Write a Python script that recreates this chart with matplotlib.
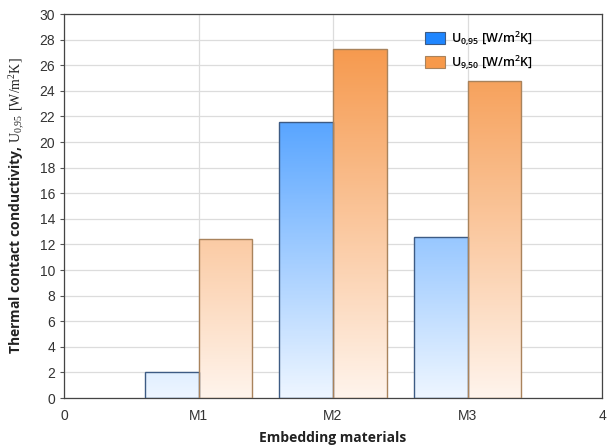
import matplotlib

matplotlib.use("Agg")
import matplotlib.pyplot as plt  # noqa: E402
import numpy as np  # noqa: E402
from matplotlib.colors import LinearSegmentedColormap  # noqa: E402
from matplotlib.patches import Rectangle  # noqa: E402

materials = ["M1", "M2", "M3"]
u_095 = [2.05, 21.55, 12.6]
u_950 = [12.4, 27.3, 24.75]
x_ticks = [0, 1, 2, 3, 4]
x_labels = ["0", "M1", "M2", "M3", "4"]

plt.rcParams.update({
    "font.family": ["Liberation Sans", "DejaVu Sans"],
    "mathtext.fontset": "custom",
    "mathtext.rm": "Liberation Serif",
    "mathtext.sf": "Open Sans:semibold",
})

BLUE_CM = LinearSegmentedColormap.from_list("blue", ["#eef6ff", "#1f86ff"])
ORANGE_CM = LinearSegmentedColormap.from_list("orange", ["#fff4ec", "#f5913f"])
BLUE_EDGE = "#3d5b84"
ORANGE_EDGE = "#a9835c"
YMAX = 30

fig = plt.figure(figsize=(6.1, 4.48), dpi=100)
ax = fig.add_axes([0.105, 0.1116, 0.882, 0.857])


def gradient_bar(ax, x, h, w, cmap, edge):
    # colour follows the y value on the axis, not the bar's own height
    grad = np.linspace(0, h / YMAX, 256).reshape(-1, 1)
    im = ax.imshow(grad, cmap=cmap, vmin=0, vmax=1, origin="lower",
                   extent=[x, x + w, 0, h], aspect="auto", zorder=2)
    rect = Rectangle((x, 0), w, h, facecolor="none", edgecolor=edge, lw=1.0, zorder=3)
    ax.add_patch(rect)
    im.set_clip_path(rect)


w = 0.4
pos = np.arange(1, len(materials) + 1)
for p, a, b in zip(pos, u_095, u_950):
    gradient_bar(ax, p - w, a, w, BLUE_CM, BLUE_EDGE)
    gradient_bar(ax, p, b, w, ORANGE_CM, ORANGE_EDGE)

ax.set_xlim(0, 4)
ax.set_ylim(0, YMAX)
ax.set_yticks(np.arange(0, 31, 2))
ax.set_xticks(x_ticks)
ax.set_xticklabels(x_labels)
ax.tick_params(axis="both", labelsize=10, labelcolor="#333333", color="#555555", length=3)
ax.tick_params(axis="x", length=0, pad=8)
ax.grid(True, color="#dcdcdc", lw=0.9, zorder=0)
ax.set_axisbelow(True)
for s in ax.spines.values():
    s.set_color("#444444")
    s.set_linewidth(0.9)

ax.set_xlabel("Embedding materials", family="Open Sans", fontweight="bold",
              fontsize=10, color="#222222", labelpad=6)
ax.set_ylabel(r"Thermal contact conductivity, $\mathrm{U_{0{,}95}\ [W/m^2K]}$",
              family="Open Sans", fontweight="bold", fontsize=10, color="#222222", labelpad=8)

handles = [Rectangle((0, 0), 1, 1, facecolor="#1f86ff", edgecolor=BLUE_EDGE, lw=0.8),
           Rectangle((0, 0), 1, 1, facecolor="#f7994a", edgecolor=ORANGE_EDGE, lw=0.8)]
labels = [r"U$_\mathsf{0{,}95}$ [W/m$^\mathsf{2}$K]", r"U$_\mathsf{9{,}50}$ [W/m$^\mathsf{2}$K]"]
leg = ax.legend(handles, labels, loc="upper left", bbox_to_anchor=(0.65, 0.99),
                frameon=False, prop={"family": "Open Sans", "size": 9, "weight": "semibold"},
                handlelength=1.6, handleheight=1.1, labelspacing=0.5, handletextpad=0.5)

fig.savefig("out.png", dpi=100)
